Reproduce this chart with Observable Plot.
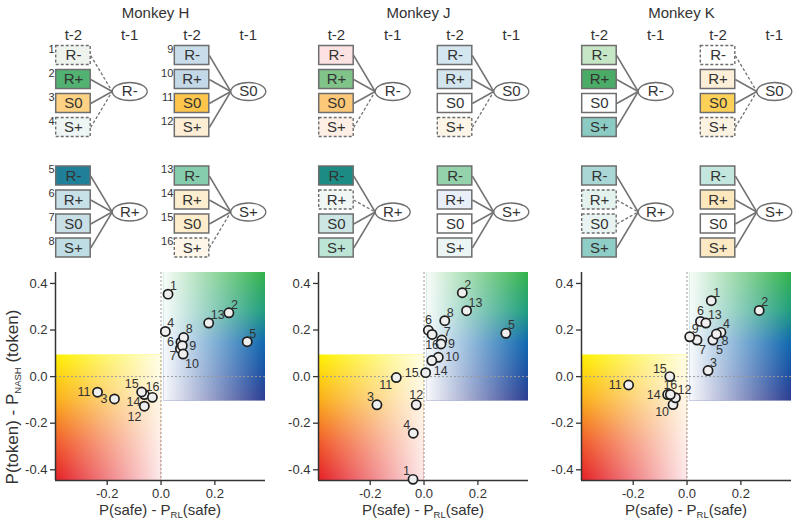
<!DOCTYPE html>
<html><head><meta charset="utf-8">
<script src="https://cdn.jsdelivr.net/npm/d3@7"></script>
<script src="https://cdn.jsdelivr.net/npm/@observablehq/plot@0.6"></script>
<style>
body{margin:0;background:#fff;font-family:"Liberation Sans",Arial,sans-serif;color:#333;}
#root{position:relative;width:800px;height:527px;overflow:hidden;background:#fff;}
.pane{position:absolute;}
.axlab{position:absolute;white-space:nowrap;font-size:15px;color:#333;transform:translate(-50%,-50%);}
.axlab sub{font-size:9.5px;vertical-align:-3px;line-height:0;}
.ylab{transform:translate(-50%,-50%) rotate(-90deg);font-size:17px;}
</style></head><body>
<svg width="0" height="0" style="position:absolute">
<defs>
<linearGradient id="gur" x1="0" y1="0" x2="0" y2="1">
<stop offset="0" stop-color="#33b34a"/>
<stop offset="0.3" stop-color="#1f9e7e"/>
<stop offset="0.55" stop-color="#0f68b0"/>
<stop offset="0.8" stop-color="#1b4ea2"/>
<stop offset="1" stop-color="#2e3c90"/>
</linearGradient>
<linearGradient id="gurw" x1="0" y1="0" x2="1" y2="0">
<stop offset="0" stop-color="#fff" stop-opacity="0.97"/>
<stop offset="1" stop-color="#fff" stop-opacity="0"/>
</linearGradient>
<linearGradient id="gll" x1="0" y1="0" x2="0" y2="1">
<stop offset="0" stop-color="#fff200"/>
<stop offset="0.35" stop-color="#fbb016"/>
<stop offset="0.7" stop-color="#f15a29"/>
<stop offset="1" stop-color="#e41e26"/>
</linearGradient>
<linearGradient id="gllw" x1="0" y1="0" x2="1" y2="0">
<stop offset="0" stop-color="#fff" stop-opacity="0"/>
<stop offset="1" stop-color="#fff" stop-opacity="0.9"/>
</linearGradient>
</defs>
</svg>
<div id="root"></div>
<script>
// ---------------- data ----------------
const monkeys = ["Monkey H", "Monkey J", "Monkey K"];
const t1States = ["R-", "R+", "S0", "S+"];   // outcome at t-1 (conditions 1-4, 5-8, 9-12, 13-16)
const t2States = ["R-", "R+", "S0", "S+"];   // outcome at t-2
const conditionNumbers = d3.range(1, 17);
const columnHeaders = ["t-2", "t-1", "t-2", "t-1"];

const boxColorsH = ["#eef3ee","#52b271","#fed282","#eef5f5",
                    "#20809a","#c8e0e8","#c8dfe6","#bfdde4",
                    "#c8dde9","#c3d9e8","#fdc54c","#fdeed5",
                    "#86cdad","#fdeecf","#fdedcb","#fdf6e9"];
const boxColorsJ = ["#fde2e2","#80c48a","#fdc878","#fdefe6",
                    "#1c8b83","#f0f7f5","#cde6e5","#bde5d6",
                    "#d4e6ef","#d3e5ef","#ffffff","#fdf5e8",
                    "#93d2ab","#e8eff9","#ffffff","#ebf6f4"];
const boxColorsK = ["#c6e7c6","#4aac66","#ffffff","#8ccbc3",
                    "#a9d7d6","#e5f3ef","#e9f4f2","#8fcdc7",
                    "#ffffff","#fdefd8","#fdd057","#fdf3e3",
                    "#c3e7de","#fde8bd","#ffffff","#fde9c3"];
const dashedH = [1,0,0,1, 0,0,0,0, 0,0,0,0, 0,0,0,1];
const dashedJ = [0,0,0,1, 0,1,0,0, 0,0,0,1, 0,0,0,0];
const dashedK = [0,0,0,0, 0,1,1,0, 1,0,0,1, 0,0,0,0];

// P(safe) - P_RL(safe)  and  P(token) - P_NASH(token), conditions 1..16
const safeH  = [0.026, 0.252, -0.173, 0.016, 0.320, 0.074, 0.072, 0.084, 0.079, 0.082, -0.236, -0.062, 0.177, -0.062, -0.072, -0.032];
const tokenH = [0.354, 0.274, -0.096, 0.194, 0.150, 0.148, 0.120, 0.168, 0.133, 0.097, -0.067, -0.127, 0.230, -0.077, -0.066, -0.089];
const safeJ  = [-0.041, 0.142, -0.175, -0.040, 0.304, 0.016, 0.066, 0.077, 0.063, 0.053, -0.103, -0.029, 0.158, 0.029, 0.006, 0.030];
const tokenJ = [-0.441, 0.360, -0.121, -0.243, 0.186, 0.199, 0.157, 0.240, 0.140, 0.083, -0.004, -0.121, 0.283, 0.069, 0.017, 0.181];
const safeK  = [0.090, 0.268, 0.078, 0.126, 0.096, 0.050, 0.037, 0.109, 0.010, -0.052, -0.217, -0.043, 0.070, -0.072, -0.064, -0.062];
const tokenK = [0.326, 0.284, 0.026, 0.190, 0.157, 0.237, 0.157, 0.183, 0.171, -0.120, -0.036, -0.091, 0.230, -0.077, 0.000, -0.077];
// label side of each point
const labelSideH = ["ne","ne","w","ne","ne","w","sw","ne","e","se","w","sw2","ne","sw","nw","n"];
const labelSideJ = ["nw","ne","nw","nw","ne","n","ne","ne","e","e","sw","n","ne","se","w","s"];
const labelSideK = ["ne","ne","ne","ne","s2","n","se","es","ne","sw","w","ne","ne","w","nw","n"];

const xTicks = [-0.2, 0.0, 0.2];
const yTicks = [-0.4, -0.2, 0.0, 0.2, 0.4];
const xDomain = [-0.392, 0.388];
const yDomain = [-0.446, 0.447];
// shaded regions (gradient backgrounds)
const regionIds = ["gur", "gll"];
const regionSafeFrom = [0.010, -0.392];
const regionSafeTo = [0.388, 0.0];
const regionTokenFrom = [-0.105, -0.446];
const regionTokenTo = [0.447, 0.093];

const monkeyData = [
  {name: monkeys[0], colors: boxColorsH, dashed: dashedH, safe: safeH, token: tokenH, side: labelSideH, numbers: true},
  {name: monkeys[1], colors: boxColorsJ, dashed: dashedJ, safe: safeJ, token: tokenJ, side: labelSideJ, numbers: false},
  {name: monkeys[2], colors: boxColorsK, dashed: dashedK, safe: safeK, token: tokenK, side: labelSideK, numbers: false}
];

// ---------------- layout ----------------
const FONT = '"Liberation Sans", Arial, sans-serif';
const panelStep = 263;
const blockCol = {"R-": 0, "S0": 1, "R+": 0, "S+": 1};
const blockRow = {"R-": 0, "S0": 0, "R+": 1, "S+": 1};
const boxLeft = [55.7, 174.3], boxW = 34.5, boxH = 19;
const rowTop = [55, 175.5], rowStep = 24;
const ellOffset = 73.5, RX = 17.5, RY = 9;

const ellipseSymbol = {
  draw(ctx) {
    const k = 0.5523;
    ctx.moveTo(RX, 0);
    ctx.bezierCurveTo(RX, RY * k, RX * k, RY, 0, RY);
    ctx.bezierCurveTo(-RX * k, RY, -RX, RY * k, -RX, 0);
    ctx.bezierCurveTo(-RX, -RY * k, -RX * k, -RY, 0, -RY);
    ctx.bezierCurveTo(RX * k, -RY, RX, -RY * k, RX, 0);
    ctx.closePath();
  }
};

const root = document.getElementById("root");

function diagram(md) {
  const cells = conditionNumbers.map((n, c) => {
    const t1 = t1States[Math.floor(c / 4)], i = c % 4;
    const gc = blockCol[t1], gr = blockRow[t1];
    const by = rowTop[gr] + rowStep * i;
    return {n, t1, t2: t2States[i], color: md.colors[c], dashed: !!md.dashed[c],
      bx1: boxLeft[gc], bx2: boxLeft[gc] + boxW, bcx: boxLeft[gc] + boxW / 2,
      by, by1: by - boxH / 2, by2: by + boxH / 2,
      ex: boxLeft[gc] + ellOffset - RX, ey: rowTop[gr] + rowStep * 1.5};
  });
  const nodes = t1States.map(t1 => ({t1, x: boxLeft[blockCol[t1]] + ellOffset, y: rowTop[blockRow[t1]] + rowStep * 1.5}));
  const headers = columnHeaders.map((h, j) => ({h, x: boxLeft[j >> 1] + (j % 2 ? ellOffset : boxW / 2)}));
  const solid = cells.filter(d => !d.dashed), dash = cells.filter(d => d.dashed);
  const marks = [
    Plot.link(solid, {x1: "bx2", y1: "by", x2: "ex", y2: "ey", stroke: "#737373", strokeWidth: 1.5}),
    Plot.link(dash, {x1: "bx2", y1: "by", x2: "ex", y2: "ey", stroke: "#737373", strokeWidth: 1.3, strokeDasharray: "3,2"}),
    Plot.rect(solid, {x1: "bx1", x2: "bx2", y1: "by1", y2: "by2", fill: "color", stroke: "#6e6e6e", strokeWidth: 1.5}),
    Plot.rect(dash, {x1: "bx1", x2: "bx2", y1: "by1", y2: "by2", fill: "color", stroke: "#6e6e6e", strokeWidth: 1.4, strokeDasharray: "3,2"}),
    Plot.text(cells, {x: "bcx", y: "by", text: "t2", fontSize: 15, fill: "#333"}),
    Plot.dot(nodes, {x: "x", y: "y", symbol: ellipseSymbol, fill: "white", stroke: "#6e6e6e", strokeWidth: 1.3}),
    Plot.text(nodes, {x: "x", y: "y", text: "t1", fontSize: 15, fill: "#333"}),
    Plot.text(headers, {x: "x", y: () => 35, text: "h", fontSize: 15, fill: "#333"}),
    Plot.text([md.name], {x: () => 155, y: () => 13, text: d => d, fontSize: 15, fill: "#333"})
  ];
  if (md.numbers) marks.push(Plot.text(cells, {x: "bx1", y: "by1", text: "n", textAnchor: "end", dx: -1.5, dy: 3, fontSize: 11, fill: "#333"}));
  return Plot.plot({
    width: 270, height: 262, margin: 0,
    x: {domain: [0, 270], range: [0, 270], axis: null},
    y: {domain: [0, 262], range: [0, 262], axis: null},
    color: {type: "identity"},
    style: {background: "transparent", fontFamily: FONT, overflow: "visible"},
    marks
  });
}

const sides = {
  ne: {textAnchor: "start", dx: 2, dy: -8},
  nw: {textAnchor: "end", dx: -3, dy: -8},
  n:  {textAnchor: "middle", dx: 0, dy: -10},
  s:  {textAnchor: "middle", dx: 0, dy: 11},
  s2: {textAnchor: "start", dx: 3, dy: 10},
  e:  {textAnchor: "start", dx: 7, dy: 0},
  es: {textAnchor: "start", dx: 5, dy: 7},
  w:  {textAnchor: "end", dx: -7, dy: 0},
  se: {textAnchor: "start", dx: 2, dy: 10},
  sw: {textAnchor: "end", dx: -4, dy: 7},
  sw2: {textAnchor: "end", dx: -3, dy: 11}
};

function scatter(md) {
  const pts = md.safe.map((s, i) => ({n: String(i + 1), s, t: md.token[i], side: md.side[i]}));
  const regions = regionIds.map((id, i) => ({id, x1: regionSafeFrom[i], x2: regionSafeTo[i], y1: regionTokenFrom[i], y2: regionTokenTo[i]}));
  const fmt = d => d.toFixed(1);
  const marks = [
    Plot.rect(regions.filter(d => d.id === "gur"), {x1: "x1", x2: "x2", y1: "y1", y2: "y2", fill: "url(#gur)"}),
    Plot.rect(regions.filter(d => d.id === "gur"), {x1: "x1", x2: "x2", y1: "y1", y2: "y2", fill: "url(#gurw)"}),
    Plot.rect(regions.filter(d => d.id === "gll"), {x1: "x1", x2: "x2", y1: "y1", y2: "y2", fill: "url(#gll)"}),
    Plot.rect(regions.filter(d => d.id === "gll"), {x1: "x1", x2: "x2", y1: "y1", y2: "y2", fill: "url(#gllw)"}),
    Plot.ruleX([0], {stroke: "#999", strokeDasharray: "2,2", strokeWidth: 1}),
    Plot.ruleY([0], {stroke: "#999", strokeDasharray: "2,2", strokeWidth: 1}),
    Plot.ruleX([xDomain[0]], {stroke: "#333", strokeWidth: 1.5}),
    Plot.ruleY([yDomain[0]], {stroke: "#333", strokeWidth: 1.5}),
    Plot.axisX(xTicks, {tickFormat: fmt, tickSize: 5, tickPadding: 3, fontSize: 13, label: null, strokeWidth: 1.3}),
    Plot.axisY(yTicks, {tickFormat: fmt, tickSize: 5, tickPadding: 3, fontSize: 13, label: null, strokeWidth: 1.3}),
    Plot.dot(pts, {x: "s", y: "t", r: 4.6, fill: "#efefef", stroke: "#1e1e1e", strokeWidth: 1.7}),
    ...Object.entries(sides).map(([k, o]) => Plot.text(pts.filter(d => d.side === k), {x: "s", y: "t", text: "n", fontSize: 12.5, fill: "#333", ...o}))
  ];
  return Plot.plot({
    width: 270, height: 267,
    marginLeft: 55, marginRight: 5, marginTop: 12, marginBottom: 47,
    x: {domain: xDomain, label: null},
    y: {domain: yDomain, label: null},
    style: {background: "transparent", fontFamily: FONT, fontSize: "13px", color: "#333", overflow: "visible"},
    marks
  });
}

monkeyData.forEach((md, m) => {
  const d = document.createElement("div");
  d.className = "pane"; d.style.left = (m * panelStep) + "px"; d.style.top = "0px";
  d.appendChild(diagram(md));
  root.appendChild(d);
  const s = document.createElement("div");
  s.className = "pane"; s.style.left = (m * panelStep) + "px"; s.style.top = "260px";
  s.appendChild(scatter(md));
  root.appendChild(s);
  const xl = document.createElement("div");
  xl.className = "axlab";
  xl.style.left = (m * panelStep + 160) + "px"; xl.style.top = "509px";
  xl.innerHTML = "P(safe) - P<sub>RL</sub>(safe)";
  root.appendChild(xl);
});
const yl = document.createElement("div");
yl.className = "axlab ylab";
yl.style.left = "13px"; yl.style.top = "397px";
yl.innerHTML = "P(token) - P<sub>NASH</sub> (token)";
root.appendChild(yl);
</script>
</body></html>
